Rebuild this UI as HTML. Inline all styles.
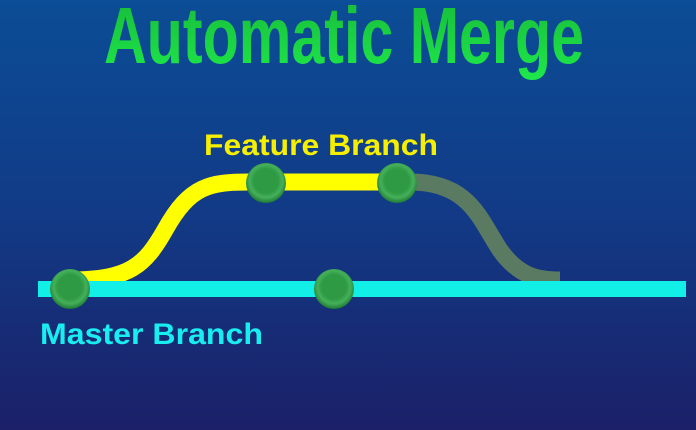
<!DOCTYPE html>
<html><head><style>html,body{margin:0;padding:0;width:696px;height:430px;overflow:hidden}</style></head>
<body>
<svg width="696" height="430" xmlns="http://www.w3.org/2000/svg">
<defs>
<linearGradient id="bg" x1="0" y1="0" x2="0" y2="1">
<stop offset="0" stop-color="#0b4d96"/><stop offset="0.5" stop-color="#123a86"/><stop offset="1" stop-color="#1b2068"/>
</linearGradient>
<linearGradient id="tg" x1="0" y1="0" x2="0" y2="1">
<stop offset="0" stop-color="#17b83a"/><stop offset="1" stop-color="#1ee84a"/>
</linearGradient>
<radialGradient id="nd" cx="0.5" cy="0.45" r="0.55">
<stop offset="0" stop-color="#2e9a44"/><stop offset="0.55" stop-color="#2e9a44"/><stop offset="0.75" stop-color="#45b05a"/><stop offset="1" stop-color="#1f7a35"/>
</radialGradient>
</defs>
<rect width="696" height="430" fill="url(#bg)"/>
<text x="104" y="63" textLength="480" lengthAdjust="spacingAndGlyphs" font-family="Liberation Sans, sans-serif" font-weight="bold" font-size="80" fill="url(#tg)">Automatic Merge</text>
<text x="204" y="155" textLength="234" lengthAdjust="spacingAndGlyphs" font-family="Liberation Sans, sans-serif" font-weight="bold" font-size="30" fill="#f6f000">Feature Branch</text>
<text x="40" y="344" textLength="223" lengthAdjust="spacingAndGlyphs" font-family="Liberation Sans, sans-serif" font-weight="bold" font-size="30" fill="#18eef0">Master Branch</text>
<path d="M410 182 C470 182 480 220 500 250 C520 278 540 280 560 280" stroke="#5a7a62" stroke-width="17" fill="none"/>
<path d="M70 280 C130 280 145 265 165 230 C190 185 210 182 250 182 L400 182" stroke="#ffff00" stroke-width="17" fill="none"/>
<rect x="38" y="281" width="648" height="16" fill="#12efe6"/>
<g>
<circle cx="70" cy="289" r="20" fill="url(#nd)"/>
<circle cx="334" cy="289" r="20" fill="url(#nd)"/>
<circle cx="266" cy="183" r="20" fill="url(#nd)"/>
<circle cx="397" cy="183" r="20" fill="url(#nd)"/>
</g>
</svg>
</body></html>
